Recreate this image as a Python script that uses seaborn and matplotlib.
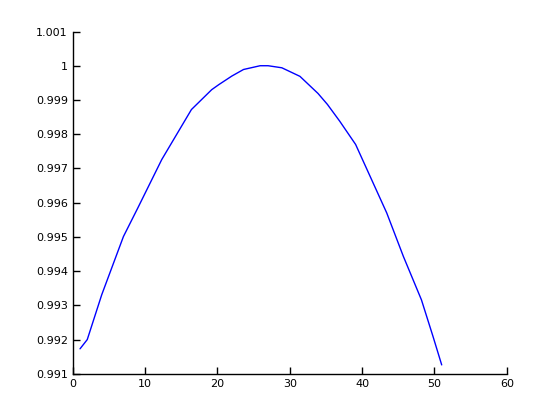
# import libraries
import seaborn as sns
import matplotlib.pyplot as plt
from matplotlib.ticker import FuncFormatter

# data
x = [1.0, 2.0, 4.0, 7.0, 9.0, 12.3, 16.4, 19.2, 20.2, 22.0, 23.6, 25.9, 27.0,
     28.9, 31.4, 33.9, 35.2, 36.9, 39.1, 41.1, 43.4, 45.7, 48.2, 49.8, 51.0]
y = [0.99173, 0.99200, 0.99331, 0.99501, 0.99585, 0.99726, 0.99872, 0.99930,
     0.99945, 0.99970, 0.99989, 1.00000, 1.00000, 0.99994, 0.99969, 0.99919,
     0.99887, 0.99838, 0.99770, 0.99677, 0.99570, 0.99443, 0.99316, 0.99209,
     0.99126]

sns.set_style("white")
plt.rcParams['font.family'] = ['DejaVu Sans']

fig = plt.figure(figsize=(5.6, 4.2), dpi=100)
ax = fig.add_axes([0.13, 0.11, 0.775, 0.815])

sns.lineplot(x=x, y=y, ax=ax, color="#0000ff", linewidth=1.0)

ax.set_xlim(0, 60)
ax.set_ylim(0.991, 1.001)
ax.set_xticks(range(0, 61, 10))
ax.set_yticks([0.991 + 0.001 * i for i in range(11)])
ax.yaxis.set_major_formatter(FuncFormatter(lambda v, p: "%g" % round(v, 3)))
ax.tick_params(direction="in", length=5, width=1, labelsize=8, colors="black",
               left=True, bottom=True)
for s in ["top", "right"]:
    ax.spines[s].set_visible(False)
for s in ["left", "bottom"]:
    ax.spines[s].set_color("black")
    ax.spines[s].set_linewidth(1)

plt.savefig("out.png", dpi=100)
